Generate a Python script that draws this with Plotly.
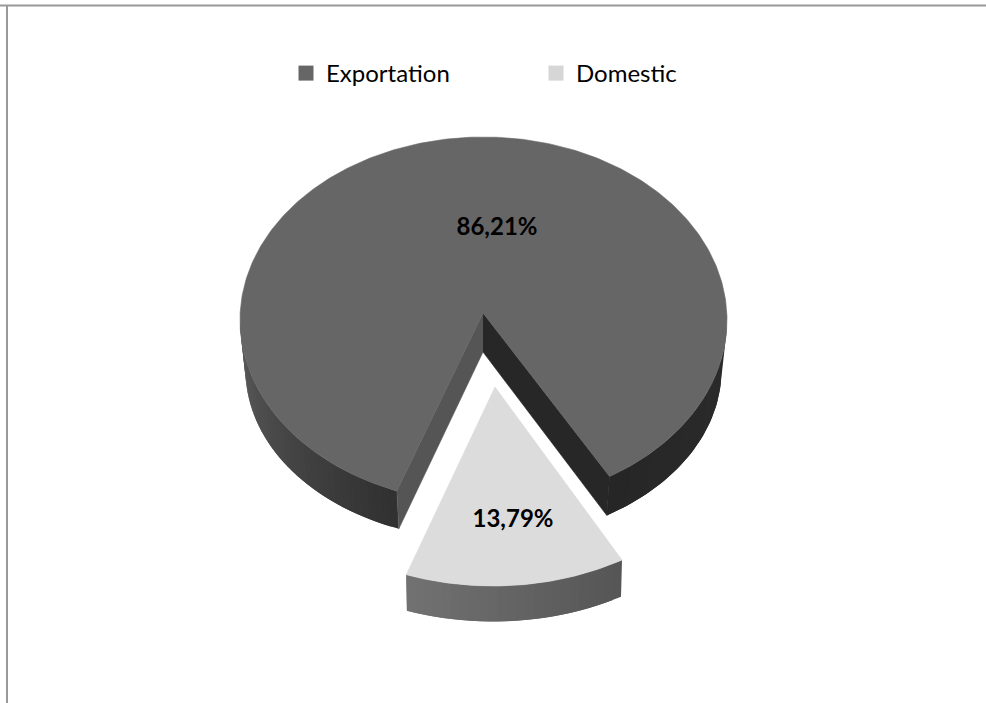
import numpy as np
import plotly.graph_objects as go

# Data
categories = ["Exportation", "Domestic"]
shares = [86.21, 13.79]
top_colors = ["#666666", "#dcdcdc"]
legend_colors = ["#666666", "#d6d6d6"]

WIDTH, HEIGHT = 986, 703
FONT = "Lato"

# Pie layout, in pixel-like axis units (y pointing down)
FIRST_ANGLE = 150.0  # clockwise from twelve o'clock, where Domestic starts
SPREAD = 1.2  # the tilted view opens the notch a little wider than the slice
sweep = [s / sum(shares) * 360 for s in shares]
dom_start, dom_end = FIRST_ANGLE, FIRST_ANGLE + sweep[1]
exp_start, exp_end = dom_end + SPREAD, dom_start + 360 - SPREAD


def rim(cx, cy, rx, ry, a0, a1, n=160):
    t = np.radians(np.linspace(a0, a1, n))
    return cx + rx * np.sin(t), cy - ry * np.cos(t)


def polygon(xs, ys, color):
    return go.Scatter(x=list(xs), y=list(ys), mode="lines", fill="toself",
                      fillcolor=color, line=dict(color=color, width=0.6),
                      hoverinfo="skip", showlegend=False)


def wall(top, bottom, a0, a1, shade, strips=36):
    """Outer side of a slice, painted as overlapping strips to carry the shading."""
    edges = np.linspace(a0, a1, strips + 1)
    out = []
    for i in range(strips):
        stop = edges[min(i + 2, strips)]
        xt, yt = rim(*top, edges[i], stop, 6)
        xb, yb = rim(*bottom, stop, edges[i], 6)
        level = int(round(shade((i + 0.5) / strips)))
        color = f"rgb({level},{level},{level})"
        out.append(go.Scatter(x=list(np.r_[xt, xb]), y=list(np.r_[yt, yb]),
                              mode="lines", fill="toself", fillcolor=color,
                              line=dict(color=color, width=0),
                              hoverinfo="skip", showlegend=False))
    return out


exp_top = (483.5, 320, 243.5, 183)
exp_bottom = (483.5, 370, 238, 170)
exp_apex = (483, 313)
exp_apex_low = (483, 352)

dom_top = (493, 392, 258, 194)
dom_bottom = (493, 437.5, 256, 184)
dom_apex = (495, 387)

traces = []

# Exportation: outer side, left and right of the gap
traces += wall(exp_top, exp_bottom, exp_start, 270,
               lambda f: 0x30 + (0x5c - 0x30) * f)
traces += wall(exp_top, exp_bottom, 90, exp_end - 360,
               lambda f: 0x2c - 6 * f, strips=10)

# Exportation: the two cut faces
xl, yl = rim(*exp_top, exp_start, exp_start, 1)
xlb, ylb = rim(*exp_bottom, exp_start, exp_start, 1)
traces.append(polygon([exp_apex[0], xl[0], xlb[0], exp_apex_low[0]],
                      [exp_apex[1], yl[0], ylb[0], exp_apex_low[1]], "#555555"))
xr, yr = rim(*exp_top, exp_end, exp_end, 1)
xrb, yrb = rim(*exp_bottom, exp_end, exp_end, 1)
traces.append(polygon([exp_apex[0], xr[0], xrb[0], exp_apex_low[0]],
                      [exp_apex[1], yr[0], yrb[0], exp_apex_low[1]], "#272727"))

# Exportation: top face
x, y = rim(*exp_top, exp_start, exp_end, 400)
traces.append(polygon(np.r_[exp_apex[0], x, exp_apex[0]],
                      np.r_[exp_apex[1], y, exp_apex[1]], top_colors[0]))

# Domestic: outer side and top face
traces += wall(dom_top, dom_bottom, dom_start, dom_end,
               lambda f: 0x55 + (0x72 - 0x55) * f, strips=24)
x, y = rim(*dom_top, dom_start, dom_end, 80)
traces.append(polygon(np.r_[dom_apex[0], x, dom_apex[0]],
                      np.r_[dom_apex[1], y, dom_apex[1]], top_colors[1]))

# Value labels, decimal comma
traces.append(go.Scatter(
    x=[497, 513], y=[229, 521], mode="text",
    text=[f"{s:.2f}%".replace(".", ",") for s in shares],
    textposition="middle center",
    textfont=dict(family=FONT, size=24, color="#000000", weight="bold"),
    hoverinfo="skip", showlegend=False))

# Legend entries
for name, color in zip(categories, legend_colors):
    traces.append(go.Scatter(
        x=[None], y=[None], mode="markers", name=name,
        marker=dict(symbol="square", size=15, color=color)))

fig = go.Figure(traces)
fig.update_layout(
    width=WIDTH, height=HEIGHT,
    margin=dict(l=0, r=0, t=0, b=0),
    paper_bgcolor="white", plot_bgcolor="white",
    xaxis=dict(range=[0, WIDTH], visible=False, fixedrange=True),
    yaxis=dict(range=[HEIGHT, 0], visible=False, fixedrange=True),
    font=dict(family=FONT, size=24, color="#000000"),
    legend=dict(orientation="h", x=286 / WIDTH, y=1 - 51 / HEIGHT,
                xanchor="left", yanchor="top", bgcolor="rgba(0,0,0,0)",
                entrywidth=205, entrywidthmode="pixels",
                traceorder="normal", font=dict(family=FONT, size=24)),
    shapes=[
        dict(type="line", xref="paper", yref="paper", x0=0, x1=1,
             y0=1 - 5.5 / HEIGHT, y1=1 - 5.5 / HEIGHT,
             line=dict(color="#999999", width=2)),
        dict(type="line", xref="paper", yref="paper",
             x0=7 / WIDTH, x1=7 / WIDTH, y0=0, y1=1 - 5.5 / HEIGHT,
             line=dict(color="#999999", width=2)),
    ],
)
fig.write_html("out.html")
